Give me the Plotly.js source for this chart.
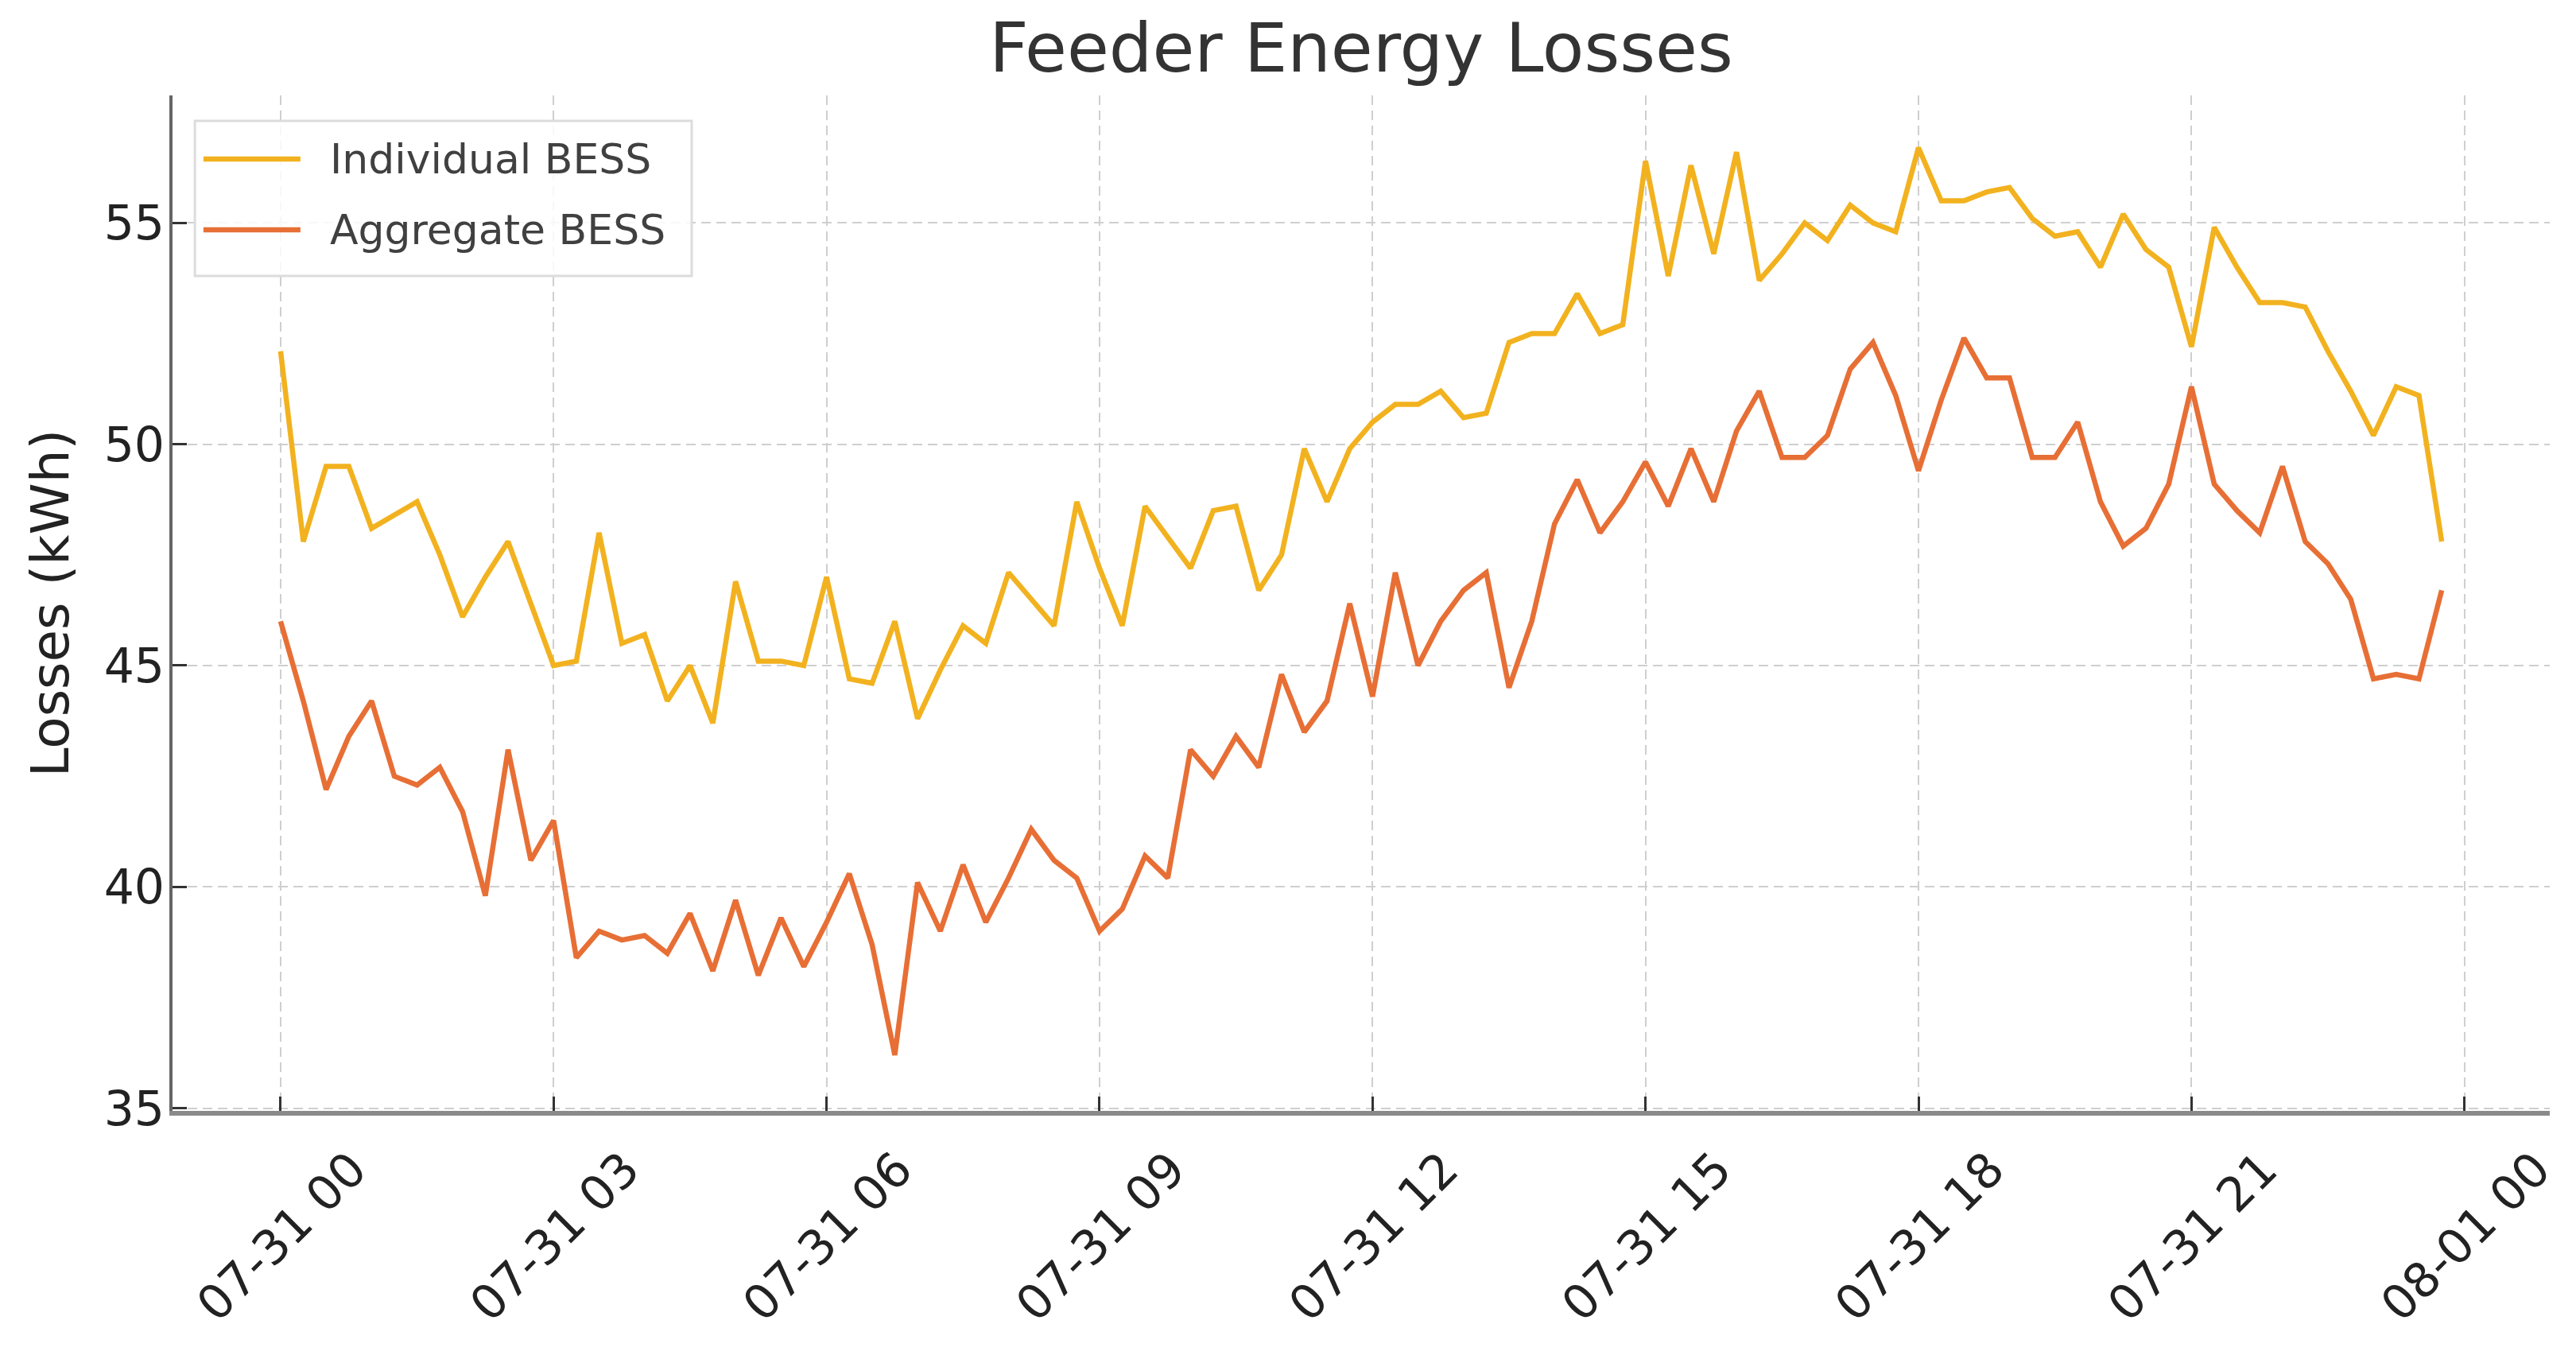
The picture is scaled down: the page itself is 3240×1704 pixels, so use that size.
<!DOCTYPE html>
<html>
<head>
<meta charset="utf-8">
<script src="https://cdn.plot.ly/plotly-3.0.1.min.js"></script>
<style>
  html, body { margin: 0; padding: 0; background: #ffffff; }
  #chart { width: 3240px; height: 1704px; }
</style>
</head>
<body>
<div id="chart"></div>
<script>
// Feeder energy losses per 15-minute interval over one day (kWh)
const seriesNames = ['Individual BESS', 'Aggregate BESS'];
const seriesColors = ['#f2b21f', '#e76f35'];

const startTime = '2024-07-31T00:00:00Z';
const stepMinutes = 15;

const individualBess = [
  52.1, 47.8, 49.5, 49.5, 48.1, 48.4, 48.7, 47.5, 46.1, 47.0, 47.8, 46.4,
  45.0, 45.1, 48.0, 45.5, 45.7, 44.2, 45.0, 43.7, 46.9, 45.1, 45.1, 45.0,
  47.0, 44.7, 44.6, 46.0, 43.8, 44.9, 45.9, 45.5, 47.1, 46.5, 45.9, 48.7,
  47.2, 45.9, 48.6, 47.9, 47.2, 48.5, 48.6, 46.7, 47.5, 49.9, 48.7, 49.9,
  50.5, 50.9, 50.9, 51.2, 50.6, 50.7, 52.3, 52.5, 52.5, 53.4, 52.5, 52.7,
  56.4, 53.8, 56.3, 54.3, 56.6, 53.7, 54.3, 55.0, 54.6, 55.4, 55.0, 54.8,
  56.7, 55.5, 55.5, 55.7, 55.8, 55.1, 54.7, 54.8, 54.0, 55.2, 54.4, 54.0,
  52.2, 54.9, 54.0, 53.2, 53.2, 53.1, 52.1, 51.2, 50.2, 51.3, 51.1, 47.8
];

const aggregateBess = [
  46.0, 44.2, 42.2, 43.4, 44.2, 42.5, 42.3, 42.7, 41.7, 39.8, 43.1, 40.6,
  41.5, 38.4, 39.0, 38.8, 38.9, 38.5, 39.4, 38.1, 39.7, 38.0, 39.3, 38.2,
  39.2, 40.3, 38.7, 36.2, 40.1, 39.0, 40.5, 39.2, 40.2, 41.3, 40.6, 40.2,
  39.0, 39.5, 40.7, 40.2, 43.1, 42.5, 43.4, 42.7, 44.8, 43.5, 44.2, 46.4,
  44.3, 47.1, 45.0, 46.0, 46.7, 47.1, 44.5, 46.0, 48.2, 49.2, 48.0, 48.7,
  49.6, 48.6, 49.9, 48.7, 50.3, 51.2, 49.7, 49.7, 50.2, 51.7, 52.3, 51.1,
  49.4, 51.0, 52.4, 51.5, 51.5, 49.7, 49.7, 50.5, 48.7, 47.7, 48.1, 49.1,
  51.3, 49.1, 48.5, 48.0, 49.5, 47.8, 47.3, 46.5, 44.7, 44.8, 44.7, 46.7
];

const xTickValues = [
  '2024-07-31 00:00', '2024-07-31 03:00', '2024-07-31 06:00', '2024-07-31 09:00',
  '2024-07-31 12:00', '2024-07-31 15:00', '2024-07-31 18:00', '2024-07-31 21:00',
  '2024-08-01 00:00'
];
const xTickLabels = [
  '07-31 00', '07-31 03', '07-31 06', '07-31 09', '07-31 12',
  '07-31 15', '07-31 18', '07-31 21', '08-01 00'
];
const yTickValues = [35, 40, 45, 50, 55];

// timestamps of the 15-minute intervals
function pad(n) { return String(n).padStart(2, '0'); }
function fmt(d) {
  return d.getUTCFullYear() + '-' + pad(d.getUTCMonth() + 1) + '-' + pad(d.getUTCDate()) +
    ' ' + pad(d.getUTCHours()) + ':' + pad(d.getUTCMinutes()) + ':' + pad(d.getUTCSeconds());
}
const t0 = new Date(startTime).getTime();
const times = individualBess.map((_, i) => fmt(new Date(t0 + i * stepMinutes * 60000)));

const FONT = 'DejaVu Sans, Liberation Sans, sans-serif';

const traces = [individualBess, aggregateBess].map((vals, k) => ({
  type: 'scatter',
  mode: 'lines',
  name: seriesNames[k],
  x: times,
  y: vals,
  line: { color: seriesColors[k], width: 6.5 },
  showlegend: false
}));

// legend box, drawn in paper coordinates at the upper left of the plot
const legendBox = { x0: 0.0094, x1: 0.2184, y0: 0.8222, y1: 0.9749 };
const legendRows = [0.9374, 0.8677];
const legendLine = { x0: 0.0130, x1: 0.0538 };
const legendTextX = 0.0656;

const shapes = [{
  type: 'rect', xref: 'paper', yref: 'paper',
  x0: legendBox.x0, x1: legendBox.x1, y0: legendBox.y0, y1: legendBox.y1,
  line: { color: '#dcdcdc', width: 3 }, fillcolor: 'rgba(255,255,255,0.85)', layer: 'above'
}];
const annotations = [];
seriesNames.forEach((name, k) => {
  shapes.push({
    type: 'line', xref: 'paper', yref: 'paper',
    x0: legendLine.x0, x1: legendLine.x1, y0: legendRows[k], y1: legendRows[k],
    line: { color: seriesColors[k], width: 6.5 }, layer: 'above'
  });
  annotations.push({
    xref: 'paper', yref: 'paper', x: legendTextX, y: legendRows[k],
    xanchor: 'left', yanchor: 'middle', showarrow: false,
    text: name, font: { family: FONT, size: 52, color: '#404040' }
  });
});

const gridStyle = { showgrid: true, gridcolor: '#cfcfcf', gridwidth: 2, griddash: '12px,7px' };

const layout = {
  width: 3240,
  height: 1704,
  paper_bgcolor: '#ffffff',
  plot_bgcolor: '#ffffff',
  margin: { l: 217, r: 33, t: 120, b: 307 },
  font: { family: FONT, color: '#222222' },
  title: {
    text: 'Feeder Energy Losses',
    font: { family: FONT, size: 86, color: '#333333' },
    x: 0.5, xref: 'paper', xanchor: 'center',
    y: 1 - 90 / 1704, yref: 'container', yanchor: 'bottom'
  },
  xaxis: Object.assign({
    type: 'date',
    range: ['2024-07-30 22:48:45', '2024-08-01 00:56:15'],
    tickmode: 'array',
    tickvals: xTickValues,
    ticktext: xTickLabels,
    tickangle: -45,
    tickfont: { family: FONT, size: 60, color: '#222222' },
    ticks: 'inside', ticklen: 18, tickwidth: 3, tickcolor: '#333333',
    ticklabelshift: 90,
    ticklabelstandoff: 8,
    showline: true, linecolor: '#8a8a8a', linewidth: 6,
    zeroline: false
  }, gridStyle),
  yaxis: Object.assign({
    range: [34.94, 57.88],
    tickmode: 'array',
    tickvals: yTickValues,
    ticktext: yTickValues.map(String),
    tickfont: { family: FONT, size: 60, color: '#222222' },
    ticks: 'inside', ticklen: 18, tickwidth: 3, tickcolor: '#333333',
    ticklabelstandoff: -6,
    showline: true, linecolor: '#666666', linewidth: 4,
    zeroline: false,
    title: { text: 'Losses (kWh)', font: { family: FONT, size: 66, color: '#222222' }, standoff: 24 }
  }, gridStyle),
  shapes: shapes,
  annotations: annotations
};

Plotly.newPlot('chart', traces, layout, { staticPlot: true, displayModeBar: false });
</script>
</body>
</html>
